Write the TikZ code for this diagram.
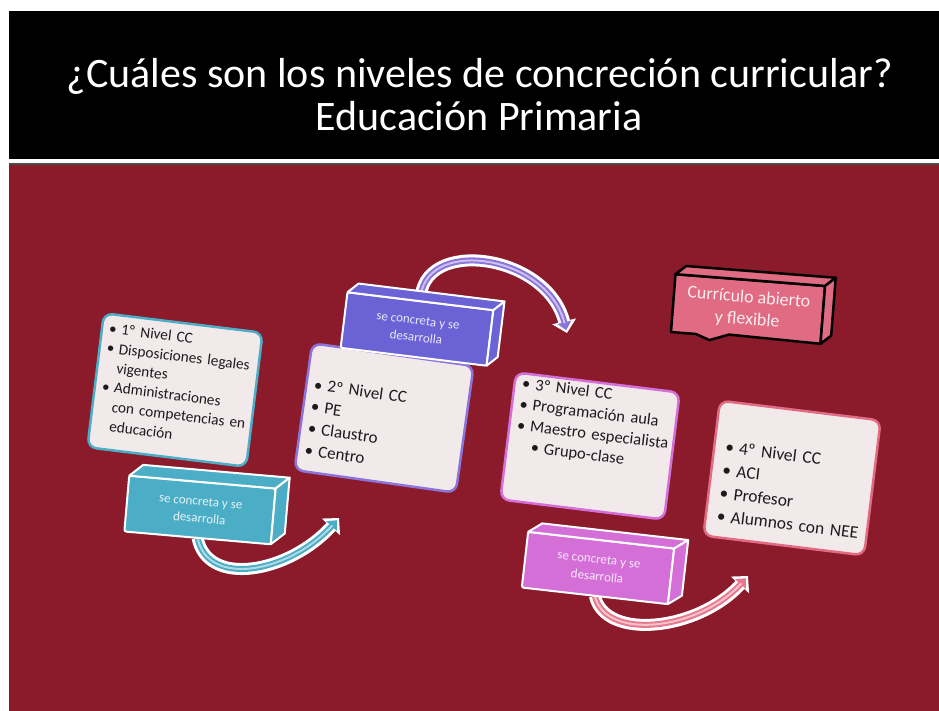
\documentclass[tikz,border=0pt]{standalone}
\usepackage{fontspec}
\setmainfont{Carlito}
\newfontfamily\boxfont{Carlito}[WordSpace=0.8]
\usetikzlibrary{positioning,arrows.meta}

\definecolor{bgred}{HTML}{8B1A2B}
\definecolor{boxfill}{HTML}{F2E9EB}
\definecolor{txtc}{HTML}{1E1A1B}
\definecolor{tealc}{HTML}{4BADC6}
\definecolor{purpc}{HTML}{6B62D6}
\definecolor{lilac}{HTML}{8C74DA}
\definecolor{orchc}{HTML}{D46FD8}
\definecolor{pinkc}{HTML}{E06B82}
\definecolor{rosec}{HTML}{E8788E}

\pgfdeclarelayer{bg}
\pgfdeclarelayer{mid}
\pgfsetlayers{bg,mid,main}

\newcommand{\itm}[1]{\par\hangindent=0.8em\hangafter=1\noindent\makebox[0.8em][l]{\textbullet}#1}
\newcommand{\subitm}[1]{\par\hangindent=1.8em\hangafter=1\noindent\hspace*{1em}\makebox[0.8em][l]{\textbullet}#1}

\begin{document}
\begin{tikzpicture}[x=1pt, y=-1pt,
        box/.style = {rectangle, draw=#1, line width=2.5pt, fill=boxfill, rounded corners=9pt},
        boxtext/.style = {anchor=north west, align=left, text=txtc, inner sep=0pt, text width=175pt},
        front/.style = {rectangle, draw=white, line width=2pt, fill=#1, rounded corners=2pt, outer sep=0pt,
            minimum width=147pt, minimum height=56pt, align=center, text=white!85!#1,
            font=\fontsize{13}{17}\selectfont},
        face/.style = {draw=white, line width=2pt, fill=#1, line join=round},
        ribbon/.style = {draw=white, line width=12pt, -{Triangle[width=24pt,length=12pt]},
            postaction={draw=#1, line width=6pt, -{Triangle[width=14pt,length=8pt]}, shorten >=3pt},
            postaction={draw=white!55!#1, line width=2pt, -, shorten >=10pt}}
    ]
    \useasboundingbox (0,0) rectangle (939,711);

    % slide background and title
    \begin{pgfonlayer}{bg}
    \fill[white] (0,0) rectangle (939,711);
    \fill[black] (9,11) rectangle (939,159);
    \fill[bgred] (9,164) rectangle (939,711);
    \draw[gray!60!black, line width=1.5pt] (9,164) -- (939,164);
    \node[anchor=base, text=white, font=\fontsize{42}{50}\selectfont] (title1) at (480,88)
        {¿Cuáles son los niveles de concreción curricular?};
    \node[anchor=base, text=white, font=\fontsize{42}{50}\selectfont] (title2) at (479,131)
        {Educación Primaria};
    \end{pgfonlayer}

    % levels
    \begin{scope}[shift={(175,390)}, rotate=-7, transform shape]
        \node[box=tealc, minimum width=160pt, minimum height=135pt] (box1) at (0,0) {};
        \node[boxtext, font=\boxfont\fontsize{15.3}{19.5}\selectfont] (txt1) at (-73,-68)
            {\itm{1º Nivel CC}\itm{Disposiciones legales\newline vigentes}\itm{Administraciones\newline con competencias en\newline educación}\par};
    \end{scope}
    \begin{scope}[shift={(384,418)}, rotate=-8, transform shape]
        \node[box=lilac, minimum width=163pt, minimum height=128pt] (box2) at (0,0) {};
        \node[boxtext, font=\boxfont\fontsize{17}{22}\selectfont] (txt2) at (-74,-40)
            {\itm{2º Nivel CC}\itm{PE}\itm{Claustro}\itm{Centro}\par};
    \end{scope}
    \begin{scope}[shift={(590,446)}, rotate=-7, transform shape]
        \node[box=orchc, minimum width=165pt, minimum height=128pt] (box3) at (0,0) {};
        \node[boxtext, font=\boxfont\fontsize{16.5}{21}\selectfont] (txt3) at (-75,-70)
            {\itm{3º Nivel CC}\itm{Programación aula}\itm{Maestro especialista}\subitm{Grupo-clase}\par};
    \end{scope}
    \begin{scope}[shift={(792,478)}, rotate=-7, transform shape]
        \node[box=pinkc, minimum width=162pt, minimum height=136pt] (box4) at (0,0) {};
        \node[boxtext, font=\boxfont\fontsize{17.5}{23}\selectfont] (txt4) at (-70,-40)
            {\itm{4º Nivel CC}\itm{ACI}\itm{Profesor}\itm{Alumnos con NEE}\par};
    \end{scope}

    % 3d blocks
    \begin{scope}[shift={(200,510)}, rotate=-5, transform shape]
        \node[front=tealc] (blk1) at (0,0) {se concreta y se\\desarrolla};
        \filldraw[face=tealc] (blk1.north west) -- ++(13,-12) -- ++(147,0) -- (blk1.north east) -- cycle;
        \filldraw[face=tealc] (blk1.north east) -- ++(13,-12) -- ++(0,56) -- (blk1.south east) -- cycle;
    \end{scope}
    \begin{scope}[shift={(417,329)}, rotate=-7, transform shape]
        \node[front=purpc] (blk2) at (0,0) {se concreta y se\\desarrolla};
        \filldraw[face=purpc] (blk2.north west) -- ++(10,-10) -- ++(147,0) -- (blk2.north east) -- cycle;
        \filldraw[face=purpc] (blk2.north east) -- ++(10,-10) -- ++(0,56) -- (blk2.south east) -- cycle;
    \end{scope}
    \begin{scope}[shift={(598,568)}, rotate=-6.5, transform shape]
        \node[front=orchc] (blk3) at (0,0) {se concreta y se\\desarrolla};
        \filldraw[face=orchc] (blk3.north west) -- ++(13,-10) -- ++(147,0) -- (blk3.north east) -- cycle;
        \filldraw[face=orchc] (blk3.north east) -- ++(13,-10) -- ++(0,56) -- (blk3.south east) -- cycle;
    \end{scope}
    \begin{scope}[shift={(748,309)}, rotate=-4.5, transform shape]
        \node[rectangle, minimum width=150pt, minimum height=58pt, outer sep=0pt] (blk4) at (0,0) {};
        \filldraw[fill=pinkc, draw=black, line width=2.5pt, line join=round]
            (blk4.north west) -- (blk4.north east) -- (blk4.south east) -- ++(-92,-2) -- ++(-19,7) -- ++(-14,-5) -- (blk4.south west) -- cycle;
        \filldraw[face=pinkc, draw=black, line width=2.5pt] (blk4.north west) -- ++(10,-9) -- ++(150,0) -- (blk4.north east) -- cycle;
        \filldraw[face=pinkc, draw=black, line width=2.5pt] (blk4.north east) -- ++(10,-9) -- ++(0,58) -- (blk4.south east) -- cycle;
        \node[align=center, text=pinkc!12!white, font=\fontsize{18}{22}\selectfont] (lbl4) at (blk4.center)
            {Currículo abierto\\y flexible};
    \end{scope}

    % curved arrows
    \coordinate (end1) at (339,518);
    \coordinate (end2) at (567,333);
    \coordinate (end3) at (748,576);
    \begin{pgfonlayer}{mid}
    \draw[ribbon=tealc] (blk1.south) .. controls +(10,50) and +(-50,55) .. (end1);
    \draw[ribbon=lilac] (blk2.north) .. controls +(0,-65) and +(-20,-80) .. (end2);
    \draw[ribbon=rosec] (blk3.south) .. controls +(10,45) and +(-50,55) .. (end3);
    \end{pgfonlayer}
\end{tikzpicture}
\end{document}
